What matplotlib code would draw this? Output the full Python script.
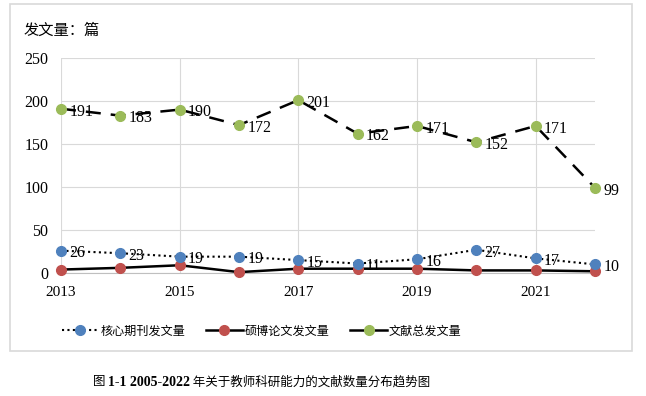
import matplotlib.pyplot as plt
from matplotlib.lines import Line2D
from matplotlib.patches import Rectangle

years = [2013, 2014, 2015, 2016, 2017, 2018, 2019, 2020, 2021, 2022]
core = [26, 23, 19, 19, 15, 11, 16, 27, 17, 10]
thesis = [4, 6, 9, 1, 5, 5, 5, 3, 3, 2]
total = [191, 183, 190, 172, 201, 162, 171, 152, 171, 99]
year_ticks = [2013, 2015, 2017, 2019, 2021]
y_ticks = [0, 50, 100, 150, 200, 250]
names = ['核心期刊发文量', '硕博论文发文量', '文献总发文量']

blue = '#4f81bd'
red = '#c0504d'
green = '#9bbb59'
serif = ['Liberation Serif', 'Noto Sans CJK SC']
cjk = ['Noto Sans CJK SC', 'DejaVu Sans']

W, H = 646, 396
fig = plt.figure(figsize=(W / 100, H / 100), dpi=100)
ax = fig.add_axes([61 / W, 1 - 273 / H, (595 - 61) / W, (273 - 58) / H])

# chart frame
fig.patches.append(Rectangle((10 / W, 1 - 351 / H), 622 / W, 347 / H,
                             transform=fig.transFigure, fill=False,
                             edgecolor='#d9d9d9', lw=1.2))

ax.plot(years, thesis, color='black', lw=1.8, marker='o', ms=7,
        mfc=red, mec=red, zorder=3)
ax.plot(years, core, color='black', lw=1.5, ls=(0, (1, 1.6)), marker='o', ms=7,
        mfc=blue, mec=blue, zorder=4)
ax.plot(years, total, color='black', lw=1.8, ls=(0, (6, 4)), marker='o', ms=7,
        mfc=green, mec=green, zorder=4)

for x, v in zip(years, core):
    ax.annotate(str(v), (x, v), xytext=(6, -2), textcoords='offset points',
                ha='left', va='center', fontsize=11.5, family=serif, zorder=5)
for x, v in zip(years, total):
    ax.annotate(str(v), (x, v), xytext=(6, -2), textcoords='offset points',
                ha='left', va='center', fontsize=11.5, family=serif, zorder=5)

ax.set_xlim(2013, 2022)
ax.set_ylim(0, 250)
ax.set_xticks(year_ticks)
ax.set_yticks(y_ticks)
ax.set_xticklabels([str(y) for y in year_ticks], family=serif, fontsize=11)
ax.set_yticklabels([str(y) for y in y_ticks], family=serif, fontsize=11.5)
ax.tick_params(axis='y', length=0, pad=9)
ax.tick_params(axis='x', length=0, pad=9)
ax.grid(True, color='#d9d9d9', lw=0.8)
ax.set_axisbelow(True)
for s in ['top', 'right', 'left']:
    ax.spines[s].set_visible(False)
ax.spines['bottom'].set_color('#bfbfbf')
for ln in ax.lines:
    ln.set_clip_on(False)

fig.text(24 / W, 1 - 30 / H, '发文量：篇', family=cjk, fontsize=11,
         ha='left', va='center')

handles = [
    Line2D([], [], color='black', lw=1.5, ls=(0, (1, 1.6)), marker='o', ms=7,
           mfc=blue, mec=blue),
    Line2D([], [], color='black', lw=1.8, marker='o', ms=7, mfc=red, mec=red),
    Line2D([], [], color='black', lw=1.8, marker='o', ms=7, mfc=green, mec=green),
]
fig.legend(handles, names, loc='center', bbox_to_anchor=(262 / W, 1 - 331 / H),
           ncol=3, frameon=False, prop={'family': cjk, 'size': 8.7},
           handlelength=3.0, columnspacing=1.7, handletextpad=0.2)

# caption, pieces placed one after another
r = fig.canvas.get_renderer()
cy = 1 - 382 / H
pieces = [('图 ', cjk, 'normal', 9), ('1-1 2005-2022', serif, 'bold', 10),
          (' 年关于教师科研能力的文献数量分布趋势图', cjk, 'normal', 9)]
x0 = 93
for txt, fam, wt, sz in pieces:
    t = fig.text(x0 / W, cy, txt, family=fam, weight=wt, fontsize=sz,
                 ha='left', va='center')
    x0 += t.get_window_extent(r).width

fig.savefig('out.png', dpi=100)
